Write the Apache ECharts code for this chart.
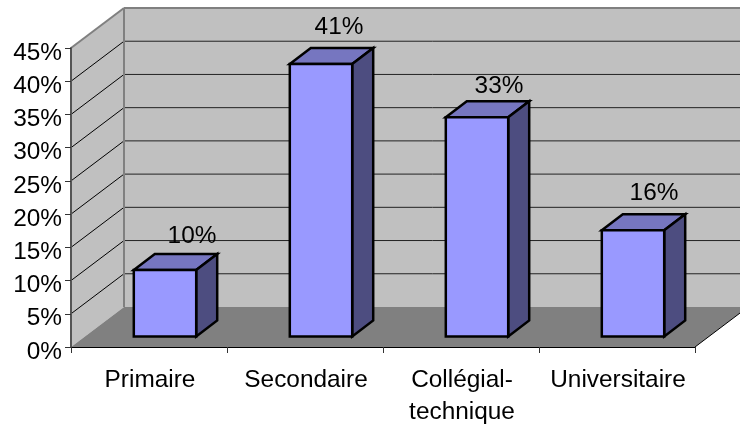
<!DOCTYPE html>
<html>
<head>
<meta charset="utf-8">
<script src="https://cdn.jsdelivr.net/npm/echarts@6/dist/echarts.min.js"></script>
<style>
  html, body { margin: 0; padding: 0; background: #fff; }
  #chart { width: 740px; height: 428px; }
</style>
</head>
<body>
<div id="chart"></div>
<script>
  var categories = ['Primaire', 'Secondaire', 'Collégial-\ntechnique', 'Universitaire'];
  var shares = [10, 41, 33, 16];
  var gridValues = [5, 10, 15, 20, 25, 30, 35, 40];
  var labelShiftX = [27, 18, 22, 21];
  var labelShiftY = [-34, -37, -31, -37];

  // depth of the fake 3d box, and of one bar
  var WALL_DX = 53, WALL_DY = 40;
  var BAR_DX = 21, BAR_DY = 16;
  var BAR_OFF_X = 16, BAR_OFF_Y = 10.5;
  var FONT = '24.4px "Liberation Sans", Arial, sans-serif';

  function poly(points, fill, stroke, width) {
    return {
      type: 'polygon',
      shape: { points: points },
      style: { fill: fill, stroke: stroke || null, lineWidth: width || 0, lineJoin: 'miter' }
    };
  }

  function line(a, b, color, width) {
    return {
      type: 'line',
      shape: { x1: a[0], y1: a[1], x2: b[0], y2: b[1] },
      style: { stroke: color, lineWidth: width, fill: null }
    };
  }

  function renderBox(params, api) {
    var band = api.size([1, 0])[0];
    var left = api.coord([0, 0])[0] - band / 2;
    var right = api.coord([categories.length - 1, 0])[0] + band / 2;
    var bottom = api.coord([0, 0])[1];
    var top = api.coord([0, 45])[1];
    var kids = [];

    // back wall, side wall, floor
    kids.push(poly([[left + WALL_DX, top - WALL_DY], [right + WALL_DX, top - WALL_DY], [right + WALL_DX, bottom - WALL_DY], [left + WALL_DX, bottom - WALL_DY]], '#c0c0c0'));
    kids.push(poly([[left, top], [left + WALL_DX, top - WALL_DY], [left + WALL_DX, bottom - WALL_DY], [left, bottom]], '#c0c0c0'));
    kids.push(poly([[left, bottom], [left + WALL_DX, bottom - WALL_DY], [right + WALL_DX, bottom - WALL_DY], [right, bottom]], '#808080'));

    gridValues.forEach(function (v) {
      var y = api.coord([0, v])[1];
      kids.push(line([left, y], [left + WALL_DX, y - WALL_DY], '#000', 1));
      kids.push(line([left + WALL_DX, y - WALL_DY], [right + WALL_DX, y - WALL_DY], '#222', 1));
    });

    kids.push(line([left, top], [left + WALL_DX, top - WALL_DY], '#808080', 2));
    kids.push(line([left + WALL_DX, top - WALL_DY], [right + WALL_DX, top - WALL_DY], '#808080', 2));
    kids.push(line([left + WALL_DX, top - WALL_DY], [left + WALL_DX, bottom - WALL_DY], '#808080', 2));
    kids.push(line([right, bottom], [right + WALL_DX, bottom - WALL_DY], '#000', 1));

    return { type: 'group', children: kids };
  }

  function renderBar(params, api) {
    var idx = api.value(0);
    var val = api.value(1);
    var width = api.size([1, 0])[0] * 0.4;
    var cx = api.coord([idx, 0])[0] + BAR_OFF_X;
    var base = api.coord([idx, 0])[1] - BAR_OFF_Y;
    var top = api.coord([idx, val])[1] - BAR_OFF_Y;
    var l = cx - width / 2, r = cx + width / 2;
    var edge = '#000';

    return {
      type: 'group',
      children: [
        poly([[l, top], [l + BAR_DX, top - BAR_DY], [r + BAR_DX, top - BAR_DY], [r, top]], '#7676c0', edge, 2.5),
        poly([[r, top], [r + BAR_DX, top - BAR_DY], [r + BAR_DX, base - BAR_DY], [r, base]], '#4d4d80', edge, 2.5),
        poly([[l, top], [r, top], [r, base], [l, base]], '#9999ff', edge, 2.5),
        {
          type: 'text',
          z2: 5,
          style: {
            text: val + '%',
            x: cx + labelShiftX[idx],
            y: top + labelShiftY[idx],
            align: 'center',
            verticalAlign: 'middle',
            font: FONT,
            fill: '#000'
          }
        }
      ]
    };
  }

  var myChart = echarts.init(document.getElementById('chart'), null, { renderer: 'canvas' });
  myChart.setOption({
    animation: false,
    backgroundColor: '#fff',
    grid: { left: 71, right: 45, top: 48, bottom: 80 },
    xAxis: {
      type: 'category',
      data: categories,
      z: 10,
      axisLine: { lineStyle: { color: '#000', width: 1 } },
      axisTick: { show: true, alignWithLabel: false, length: 6, lineStyle: { color: '#333' } },
      axisLabel: {
        interval: 0,
        margin: 17,
        lineHeight: 32,
        padding: [0, 0, 0, 2],
        color: '#000',
        fontSize: 24.4,
        fontFamily: '"Liberation Sans", Arial, sans-serif'
      }
    },
    yAxis: {
      type: 'value',
      min: 0,
      max: 45,
      interval: 5,
      z: 10,
      axisLine: { show: true, lineStyle: { color: '#555', width: 2 } },
      axisTick: { show: true, length: 6, lineStyle: { color: '#333' } },
      splitLine: { show: false },
      axisLabel: {
        formatter: '{value}%',
        margin: 9,
        verticalAlign: 'top',
        lineHeight: 10,
        color: '#000',
        fontSize: 24.4,
        fontFamily: '"Liberation Sans", Arial, sans-serif'
      }
    },
    series: [
      {
        type: 'custom',
        silent: true,
        renderItem: renderBox,
        encode: { x: 0, y: 1 },
        data: [[0, 0]],
        z: 1
      },
      {
        type: 'custom',
        renderItem: renderBar,
        encode: { x: 0, y: 1 },
        data: shares.map(function (v, i) { return [i, v]; }),
        z: 2
      }
    ]
  });
</script>
</body>
</html>
